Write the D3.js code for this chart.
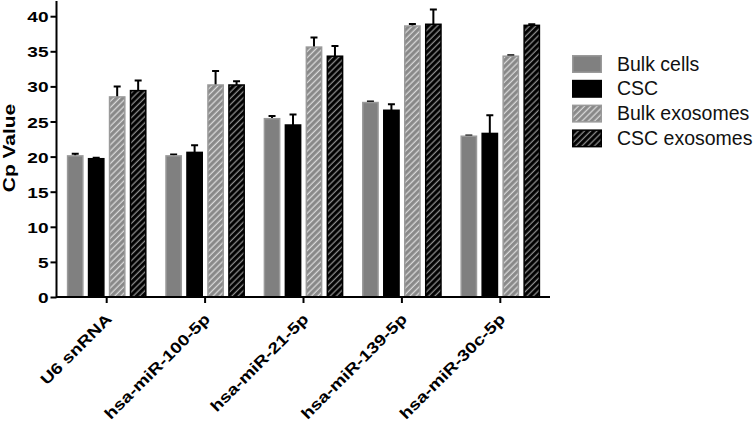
<!DOCTYPE html>
<html>
<head>
<meta charset="utf-8">
<script src="https://cdn.jsdelivr.net/npm/d3@7"></script>
<style>
  body { margin: 0; background: #fff; }
  svg { display: block; }
  .bold { font-family: "Liberation Sans", Arial, sans-serif; font-weight: bold; fill: #000; }
  .legend-text { font-family: "Liberation Sans", Arial, sans-serif; font-size: 19.5px; fill: #111; }
</style>
</head>
<body>
<div id="chart"></div>
<script>
// Cp values, one array per series
var categories = ["U6 snRNA", "hsa-miR-100-5p", "hsa-miR-21-5p", "hsa-miR-139-5p", "hsa-miR-30c-5p"];
var seriesNames = ["Bulk cells", "CSC", "Bulk exosomes", "CSC exosomes"];

var bulkCells     = [20.1, 20.1, 25.4, 27.7, 22.9];
var bulkCellsErr  = [0.3, 0.2, 0.4, 0.15, 0.1];
var csc           = [19.7, 20.6, 24.5, 26.6, 23.3];
var cscErr        = [0.15, 1.0, 1.5, 0.85, 2.6];
var bulkExo       = [28.5, 30.2, 35.6, 38.6, 34.3];
var bulkExoErr    = [1.5, 2.0, 1.35, 0.3, 0.12];
var cscExo        = [29.4, 30.2, 34.3, 38.85, 38.7];
var cscExoErr     = [1.45, 0.55, 1.45, 2.1, 0.15];

var yTicks = [0, 5, 10, 15, 20, 25, 30, 35, 40];

var W = 756, H = 424;
var STRETCH = 1.23; // the bold text in the figure is drawn wide

var svg = d3.select('#chart').append('svg')
    .attr('width', W)
    .attr('height', H);

var defs = svg.append('defs');

function AddHatch(id, bg, lineColor) {
  var p = defs.append('pattern')
      .attr('id', id)
      .attr('patternUnits', 'userSpaceOnUse')
      .attr('width', 4.4)
      .attr('height', 4.4)
      .attr('patternTransform', 'rotate(45)');
  p.append('rect').attr('width', 4.4).attr('height', 4.4).attr('fill', bg);
  p.append('line')
      .attr('x1', 1.2).attr('y1', 0)
      .attr('x2', 1.2).attr('y2', 4.4)
      .attr('stroke', lineColor)
      .attr('stroke-width', 1.3);
}
AddHatch('hatch-bulk', '#888888', '#d9d9d9');
AddHatch('hatch-csc', '#000000', '#8c8c8c');

var styles = [
  { fill: '#808080', stroke: '#9a9a9a' },
  { fill: '#000000', stroke: '#000000' },
  { fill: 'url(#hatch-bulk)', stroke: '#9a9a9a' },
  { fill: 'url(#hatch-csc)', stroke: '#000000' }
];

var values = [bulkCells, csc, bulkExo, cscExo];
var errors = [bulkCellsErr, cscErr, bulkExoErr, cscExoErr];

var x0 = d3.scaleBand()
    .domain(categories)
    .range([57, 550])
    .paddingInner(0.19)
    .paddingOuter(0.1);

var x1 = d3.scaleBand()
    .domain(d3.range(seriesNames.length))
    .range([0, x0.bandwidth()])
    .paddingInner(0.2);

var y = d3.scaleLinear()
    .domain([0, 40])
    .range([297, 16.2]);

var g = svg.append('g');

// bars
var groups = g.selectAll('.group')
    .data(categories)
    .enter().append('g')
    .attr('class', 'group')
    .attr('transform', (d) => { return 'translate(' + x0(d) + ',0)'; });

var barData = (d, ci) => {
  return seriesNames.map((s, si) => {
    return { si: si, v: values[si][ci], e: errors[si][ci] };
  });
};

groups.each(function(d, ci) {
  var grp = d3.select(this);
  var bars = barData(d, ci);

  // error bars first (upper only), bar drawn over the bottom end
  grp.selectAll('.err')
      .data(bars)
      .enter().append('path')
      .attr('class', 'err')
      .attr('fill', 'none')
      .attr('stroke', '#000')
      .attr('stroke-width', 2)
      .attr('d', (b) => {
        var cx = x1(b.si) + x1.bandwidth() / 2;
        var top = y(b.v + b.e);
        return 'M' + cx + ',' + y(b.v) + 'V' + top +
               'M' + (cx - 3.5) + ',' + top + 'H' + (cx + 3.5);
      });

  grp.selectAll('.bar')
      .data(bars)
      .enter().append('rect')
      .attr('class', 'bar')
      .attr('x', (b) => { return x1(b.si) + 0.75; })
      .attr('y', (b) => { return y(b.v); })
      .attr('width', x1.bandwidth() - 1.5)
      .attr('height', (b) => { return y(0) - y(b.v); })
      .attr('fill', (b) => { return styles[b.si].fill; })
      .attr('stroke', (b) => { return styles[b.si].stroke; })
      .attr('stroke-width', 1.5);
});

// y axis
var yAxis = g.append('g')
    .attr('transform', 'translate(56.5,0)')
    .call(d3.axisLeft(y).tickValues(yTicks).tickSize(6).tickPadding(4));
yAxis.select('.domain').remove();
yAxis.selectAll('.tick line').attr('stroke', '#000').attr('stroke-width', 2);
yAxis.selectAll('.tick text')
    .attr('class', 'bold')
    .style('font-size', '15.5px')
    .attr('x', -8 / STRETCH)
    .attr('dy', '0.36em')
    .attr('transform', 'scale(' + STRETCH + ',1)');
yAxis.attr('font-family', null).attr('font-size', null);
g.append('line')
    .attr('x1', 56.5).attr('x2', 56.5)
    .attr('y1', y(0) + 1).attr('y2', 1)
    .attr('stroke', '#000').attr('stroke-width', 2);

// x axis
g.append('line')
    .attr('x1', 56).attr('x2', 550)
    .attr('y1', y(0)).attr('y2', y(0))
    .attr('stroke', '#000').attr('stroke-width', 2);

var xTicks = g.append('g');
xTicks.selectAll('line')
    .data(categories)
    .enter().append('line')
    .attr('x1', (d) => { return x0(d) + x0.bandwidth() / 2; })
    .attr('x2', (d) => { return x0(d) + x0.bandwidth() / 2; })
    .attr('y1', y(0))
    .attr('y2', y(0) + 6)
    .attr('stroke', '#000')
    .attr('stroke-width', 2);

xTicks.selectAll('text')
    .data(categories)
    .enter().append('text')
    .attr('class', 'bold')
    .style('font-size', '15.5px')
    .attr('text-anchor', 'end')
    .attr('transform', (d) => {
      var cx = x0(d) + x0.bandwidth() / 2;
      return 'translate(' + (cx + 6) + ',' + (y(0) + 23) + ') rotate(-45) scale(' + STRETCH + ',1)';
    })
    .text((d) => { return d; });

// y axis title
svg.append('text')
    .attr('class', 'bold')
    .style('font-size', '17px')
    .attr('text-anchor', 'middle')
    .attr('transform', 'translate(15,148) rotate(-90) scale(' + STRETCH + ',1)')
    .text('Cp Value');

// legend
var legend = svg.append('g')
    .attr('transform', 'translate(572,55)');
var rows = legend.selectAll('.row')
    .data(seriesNames)
    .enter().append('g')
    .attr('class', 'row')
    .attr('transform', (d, i) => { return 'translate(0,' + (i * 24.8) + ')'; });
rows.append('rect')
    .attr('x', 0.75)
    .attr('y', 0.75)
    .attr('width', 28.5)
    .attr('height', 16.5)
    .attr('fill', (d, i) => { return styles[i].fill; })
    .attr('stroke', (d, i) => { return styles[i].stroke; })
    .attr('stroke-width', 1.5);
rows.append('text')
    .attr('class', 'legend-text')
    .attr('x', 45)
    .attr('y', 15.5)
    .text((d) => { return d; });
</script>
</body>
</html>
